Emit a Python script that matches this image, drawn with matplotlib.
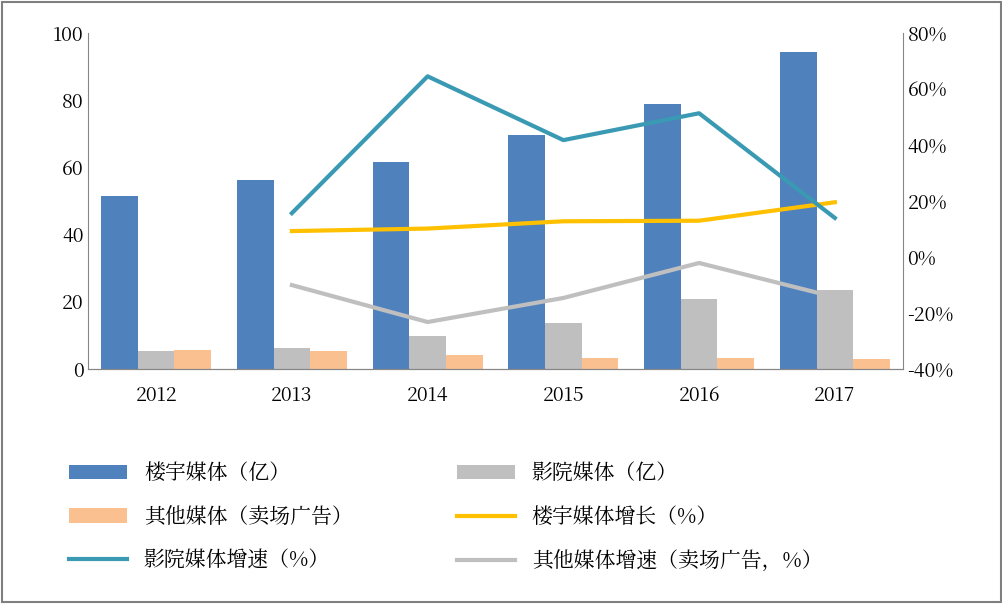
import matplotlib.pyplot as plt
from matplotlib import font_manager
import numpy as np
from matplotlib.patches import Rectangle

cjk = [f.name for f in font_manager.fontManager.ttflist if 'CJK' in f.name]
cjk_name = next((n for n in cjk if 'SC' in n), cjk[0] if cjk else 'DejaVu Sans')
plt.rcParams['font.family'] = [cjk_name, 'DejaVu Sans']

years = ['2012', '2013', '2014', '2015', '2016', '2017']
louyu = [51.5, 56.3, 61.8, 69.7, 78.8, 94.5]
yingyuan = [5.3, 6.2, 9.8, 13.8, 21.0, 23.6]
qita = [5.8, 5.4, 4.3, 3.3, 3.3, 3.0]

louyu_g = [9.3, 10.2, 12.8, 13.0, 19.6]
yingyuan_g = [15.7, 64.6, 41.8, 51.4, 14.0]
qita_g = [-10.0, -23.2, -14.6, -2.1, -14.3]

fig = plt.figure(figsize=(10.03, 6.04), dpi=100)
ax = fig.add_axes([0.088, 0.389, 0.812, 0.556])
x = np.arange(len(years))
w = 0.27
b1 = ax.bar(x - w, louyu, w, color='#4F81BD', label='楼宇媒体（亿）')
b2 = ax.bar(x, yingyuan, w, color='#BFBFBF', label='影院媒体（亿）')
b3 = ax.bar(x + w, qita, w, color='#FAC090', label='其他媒体（卖场广告）')
ax.set_ylim(0, 100)
ax.set_xlim(-0.5, 5.5)
ax.set_xticks(x)
ax.set_xticklabels(years)
ax.tick_params(axis='both', labelsize=14, length=0)
ax.tick_params(axis='x', pad=12)

ax2 = ax.twinx()
lx = x[1:]
l1, = ax2.plot(lx, louyu_g, color='#FFC000', lw=3, label='楼宇媒体增长（%）')
l2, = ax2.plot(lx, yingyuan_g, color='#3A9AB3', lw=3, label='影院媒体增速（%）')
l3, = ax2.plot(lx, qita_g, color='#BFBFBF', lw=3, label='其他媒体增速（卖场广告，%）')
ax2.set_ylim(-40, 80)
ax2.set_yticks(range(-40, 81, 20))
ax2.set_yticklabels([f'{v}%' for v in range(-40, 81, 20)])
ax2.tick_params(axis='y', labelsize=14, length=0)

for a in (ax, ax2):
    for s in ('top', 'right', 'left'):
        a.spines[s].set_visible(False)
    a.spines['bottom'].set_color('#868686')
ax.spines['left'].set_visible(True)
ax.spines['left'].set_color('#868686')
ax2.spines['right'].set_visible(True)
ax2.spines['right'].set_color('#868686')

handles = [b1, b3, l2, b2, l1, l3]
fig.legend(handles=handles, labels=[h.get_label() for h in handles], ncol=2,
           loc='upper left', bbox_to_anchor=(0.05, 0.265), frameon=False,
           fontsize=15, handlelength=2.8, columnspacing=5.0, labelspacing=1.05)

fig.patches.append(Rectangle((0.002, 0.003), 0.996, 0.994, transform=fig.transFigure,
                             fill=False, edgecolor='#7F7F7F', lw=1.5))
fig.savefig('out.png', dpi=100)
